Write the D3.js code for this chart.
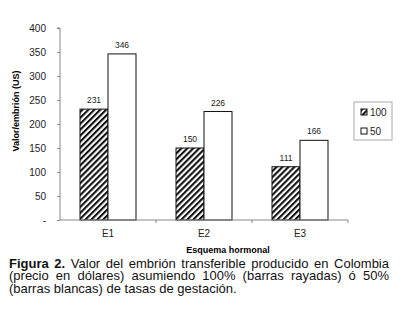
<!DOCTYPE html>
<html>
<head>
<meta charset="utf-8">
<script src="https://cdn.jsdelivr.net/npm/d3@7"></script>
<style>
body { margin: 0; background: #fff; font-family: "Liberation Sans", Arial, sans-serif; }
svg { display: block; }
.axis text { font-size: 10px; fill: #222; font-family: "Liberation Sans", Arial, sans-serif; }
.axis path, .axis line { stroke: #888; }
.caption { position: absolute; left: 9px; top: 258px; width: 380px; font-size: 13px; line-height: 12.4px; text-align: justify; color: #111; }
</style>
</head>
<body>
<div id="chart"></div>
<div class="caption"><b>Figura 2.</b> Valor del embrión transferible producido en Colombia (precio en dólares) asumiendo 100% (barras rayadas) ó 50% (barras blancas) de tasas de gestación.</div>
<script>
// data
const categories = ["E1", "E2", "E3"];
const series = ["100", "50"];
const values100 = [231, 150, 111];
const values50 = [346, 226, 166];
const yTicks = [0, 50, 100, 150, 200, 250, 300, 350, 400];

let w = 403;
let h = 313;

const svg = d3.select("#chart")
  .append("svg")
  .attr("width", w)
  .attr("height", h);

// hatch pattern
const defs = svg.append("defs");
const pat = defs.append("pattern")
  .attr("id", "hatch")
  .attr("patternUnits", "userSpaceOnUse")
  .attr("width", 4.2)
  .attr("height", 4.2)
  .attr("patternTransform", "rotate(45)");
pat.append("rect").attr("width", 4.2).attr("height", 4.2).attr("fill", "#fff");
pat.append("rect").attr("width", 2.1).attr("height", 4.2).attr("fill", "#111");

const xScale = d3.scaleBand()
  .domain(categories)
  .range([60, 348])
  .paddingInner(0)
  .paddingOuter(0);

const inner = d3.scaleBand()
  .domain(series)
  .range([20, 76]);

const yScale = d3.scaleLinear()
  .domain([0, 400])
  .range([220, 28]);

// y axis
const yAxis = d3.axisLeft(yScale)
  .tickValues(yTicks)
  .tickSize(3)
  .tickFormat(function(d){ return d === 0 ? "-" : d; });

svg.append("g")
  .attr("class", "axis")
  .attr("transform", "translate(60,0)")
  .call(yAxis)
  .call(g => g.selectAll("text").attr("dx", -8))
  .call(g => g.select(".domain").attr("d", "M-3,28H0V220"));

// bars
const rows = categories.map(function(c, i){
  return [
    {cat: c, key: "100", v: values100[i]},
    {cat: c, key: "50", v: values50[i]}
  ];
});

const groups = svg.selectAll("g.grp")
  .data(rows)
  .enter()
  .append("g")
  .attr("class", "grp")
  .attr("transform", function(d){ return "translate(" + xScale(d[0].cat) + ",0)"; });

groups.selectAll("rect")
  .data(function(d){ return d; })
  .enter()
  .append("rect")
  .attr("x", function(d){ return inner(d.key); })
  .attr("y", function(d){ return yScale(d.v); })
  .attr("width", inner.bandwidth())
  .attr("height", function(d){ return yScale(0) - yScale(d.v); })
  .attr("fill", function(d){ return d.key === "100" ? "url(#hatch)" : "#fff"; })
  .attr("stroke", "#111")
  .attr("stroke-width", 1);

groups.selectAll("text")
  .data(function(d){ return d; })
  .enter()
  .append("text")
  .text(function(d){ return d.v; })
  .attr("x", function(d){ return inner(d.key) + inner.bandwidth() / 2; })
  .attr("y", function(d){ return yScale(d.v) - 6; })
  .attr("text-anchor", "middle")
  .style("font-size", "8.5px")
  .style("fill", "#222");

// x axis
const xAxis = d3.axisBottom(xScale).tickSize(0).tickPadding(10);
const xg = svg.append("g")
  .attr("class", "axis")
  .attr("transform", "translate(0,220)")
  .call(xAxis);
xg.select(".domain").attr("d", "M60,0H348");
xg.selectAll(".sep")
  .data(categories.slice(1).concat(["end"]))
  .enter()
  .append("line")
  .attr("x1", function(d){ return d === "end" ? 348 : xScale(d); })
  .attr("x2", function(d){ return d === "end" ? 348 : xScale(d); })
  .attr("y1", 0)
  .attr("y2", 3)
  .attr("stroke", "#888");

// axis titles
svg.append("text")
  .text("Esquema hormonal")
  .attr("x", 228)
  .attr("y", 253)
  .attr("text-anchor", "middle")
  .style("font-size", "9px")
  .style("font-weight", "bold");

svg.append("text")
  .text("Valor/embrión (US)")
  .attr("transform", "translate(19,111) rotate(-90)")
  .attr("text-anchor", "middle")
  .style("font-size", "9px")
  .style("font-weight", "bold");

// legend
const legend = svg.append("g").attr("transform", "translate(354,102)");
legend.append("rect")
  .attr("width", 38).attr("height", 38)
  .attr("fill", "#fff").attr("stroke", "#aaa");
const items = legend.selectAll("g.item")
  .data(series)
  .enter()
  .append("g")
  .attr("class", "item")
  .attr("transform", function(d, i){ return "translate(7," + (7 + i * 19) + ")"; });
items.append("rect")
  .attr("width", 6).attr("height", 6)
  .attr("fill", function(d){ return d === "100" ? "url(#hatch)" : "#fff"; })
  .attr("stroke", "#111");
items.append("text")
  .text(function(d){ return d; })
  .attr("x", 9)
  .attr("y", 7)
  .style("font-size", "10px")
  .style("fill", "#222");
</script>
</body>
</html>
